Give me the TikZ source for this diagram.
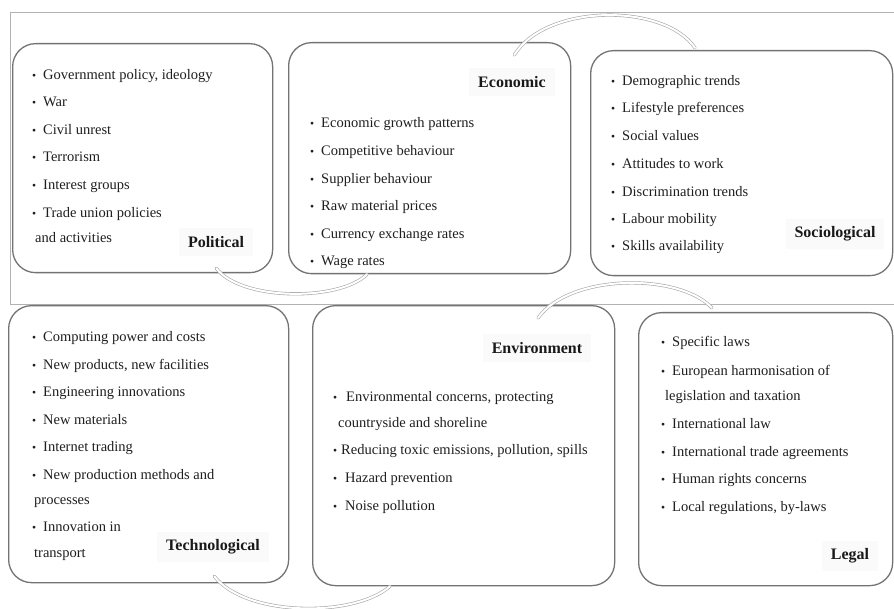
\documentclass[tikz,border=0pt]{standalone}
\usepackage{fontspec}
\usepackage{graphicx}
\setmainfont{Liberation Serif}
\newcommand\bul{\makebox[11pt][l]{\scalebox{0.8}{•}}}
\newcommand\bulr{\makebox[8pt][l]{\scalebox{0.8}{•}}}
\newcommand\itemfont{\fontsize{14.5}{16}\selectfont}
\newcommand\labfont{\fontsize{16}{18}\selectfont\bfseries}
\tikzset{
  box/.style={draw=black!55, line width=1.3pt, rounded corners=23pt, anchor=north west, inner sep=0pt},
  itm/.style={anchor=mid west, inner sep=0pt, font=\itemfont, text=black!88},
  lab/.style={font=\labfont, text=black!90, fill=black!2, inner xsep=9pt, inner ysep=8pt},
  frame/.style={draw=black!30, line width=0.8pt},
  arc/.style={draw=black!35, line width=0.6pt, double=white, double distance=2pt, line cap=round}
}
\begin{document}
\begin{tikzpicture}[x=1pt,y=-1pt]
\useasboundingbox (0,0) rectangle (894,609);
\clip (0,0) rectangle (894,609);
\fill[white] (0,0) rectangle (894,609);
% outer frame of top row
\draw[frame] (10,12) rectangle (910,304);
% boxes
\node[box, minimum width=260pt, minimum height=229pt] (pol) at (12,43) {};
\node[box, minimum width=282pt, minimum height=231pt] (eco) at (288,42) {};
\node[box, minimum width=302pt, minimum height=225pt] (soc) at (590,50) {};
\node[box, minimum width=280pt, minimum height=277pt] (tec) at (8,305) {};
\node[box, minimum width=302pt, minimum height=280pt] (env) at (312,305) {};
\node[box, minimum width=254pt, minimum height=273pt] (leg) at (638,312) {};
% Political
\node[itm] (p1) at (32,77) {\bul Government policy, ideology};
\node[itm] (p2) at (32,104) {\bul War};
\node[itm] (p3) at (32,132) {\bul Civil unrest};
\node[itm] (p4) at (32,159) {\bul Terrorism};
\node[itm] (p5) at (32,187) {\bul Interest groups};
\node[itm] (p6) at (32,215) {\bul Trade union policies};
\node[itm] (p7) at (35,240) {and activities};
\node[lab] (polL) at (216,242) {Political};
% Economic
\node[itm] (e1) at (310,125) {\bul Economic growth patterns};
\node[itm] (e2) at (310,153) {\bul Competitive behaviour};
\node[itm] (e3) at (310,181) {\bul Supplier behaviour};
\node[itm] (e4) at (310,208) {\bul Raw material prices};
\node[itm] (e5) at (310,236) {\bul Currency exchange rates};
\node[itm] (e6) at (310,263) {\bul Wage rates};
\node[lab] (ecoL) at (512,82) {Economic};
% Sociological
\node[itm] (s1) at (611,83) {\bul Demographic trends};
\node[itm] (s2) at (611,110) {\bul Lifestyle preferences};
\node[itm] (s3) at (611,138) {\bul Social values};
\node[itm] (s4) at (611,166) {\bul Attitudes to work};
\node[itm] (s5) at (611,194) {\bul Discrimination trends};
\node[itm] (s6) at (611,221) {\bul Labour mobility};
\node[itm] (s7) at (611,248) {\bul Skills availability};
\node[lab] (socL) at (835,234) {Sociological};
% Technological
\node[itm] (t1) at (32,339) {\bul Computing power and costs};
\node[itm] (t2) at (32,367) {\bul New products, new facilities};
\node[itm] (t3) at (32,394) {\bul Engineering innovations};
\node[itm] (t4) at (32,422) {\bul New materials};
\node[itm] (t5) at (32,449) {\bul Internet trading};
\node[itm] (t6) at (32,477) {\bul New production methods and};
\node[itm] (t7) at (34,502) {processes};
\node[itm] (t8) at (32,529) {\bul Innovation in};
\node[itm] (t9) at (34,555) {transport};
\node[lab] (tecL) at (213,547) {Technological};
% Environment
\node[lab] (envL) at (537,348) {Environment};
\node[itm] (v1) at (333,399) {\makebox[13pt][l]{\scalebox{0.8}{•}}Environmental concerns, protecting};
\node[itm] (v2) at (338,425) {countryside and shoreline};
\node[itm] (v3) at (333,452) {\bulr Reducing toxic emissions, pollution, spills};
\node[itm] (v4) at (333,480) {\makebox[12pt][l]{\scalebox{0.8}{•}}Hazard prevention};
\node[itm] (v5) at (333,508) {\makebox[12pt][l]{\scalebox{0.8}{•}}Noise pollution};
% Legal
\node[itm] (l1) at (661,344) {\bul Specific laws};
\node[itm] (l2) at (661,373) {\bul European harmonisation of};
\node[itm] (l3) at (665,398) {legislation and taxation};
\node[itm] (l4) at (661,426) {\bul International law};
\node[itm] (l5) at (661,454) {\bul International trade agreements};
\node[itm] (l6) at (661,481) {\bul Human rights concerns};
\node[itm] (l7) at (661,509) {\bul Local regulations, by-laws};
\node[lab] (legL) at (850,556) {Legal};
% connecting arcs
\coordinate (a1s) at ([xshift=-57pt,yshift=5pt]pol.south east);
\coordinate (a1e) at ([xshift=79pt,yshift=0pt]eco.south west);
\draw[arc] (a1s) .. controls +(25,33) and +(-27,27) .. (a1e);
\coordinate (a2s) at ([xshift=-57pt,yshift=-13pt]eco.north east);
\coordinate (a2e) at ([xshift=105pt,yshift=2pt]soc.north west);
\draw[arc] (a2s) .. controls +(32,-52) and +(-30,-45) .. (a2e);
\coordinate (a3s) at ([xshift=226pt,yshift=-13pt]env.north west);
\coordinate (a3e) at ([xshift=74pt,yshift=4pt]leg.north west);
\draw[arc] (a3s) .. controls +(32,-45) and +(-32,-35) .. (a3e);
\coordinate (a4s) at ([xshift=-75pt,yshift=7pt]tec.south east);
\coordinate (a4e) at ([xshift=78pt,yshift=0pt]env.south west);
\draw[arc] (a4s) .. controls +(32,41) and +(-35,31) .. (a4e);
\end{tikzpicture}
\end{document}
